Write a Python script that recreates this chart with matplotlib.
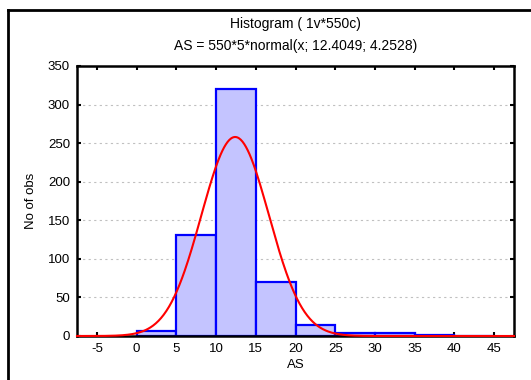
import numpy as np
import matplotlib
matplotlib.use("Agg")
import matplotlib.pyplot as plt
from matplotlib.lines import Line2D

plt.rcParams['font.family'] = ['Liberation Sans', 'DejaVu Sans']
plt.rcParams['axes.unicode_minus'] = False

# histogram data (bin edges of width 5, counts)
bin_left = [0, 5, 10, 15, 20, 25, 30, 35, 40]
counts = [6, 131, 320, 70, 14, 4, 4, 1, 0]
bin_width = 5
n_obs = 550
mu, sigma = 12.4049, 4.2528
x_ticks = [-5, 0, 5, 10, 15, 20, 25, 30, 35, 40, 45]
y_ticks = [0, 50, 100, 150, 200, 250, 300, 350]

fig = plt.figure(figsize=(5.31, 3.80), dpi=100)
ax = fig.add_axes([77 / 531, 44 / 380, 437 / 531, 270 / 380])

ax.bar(bin_left, counts, width=bin_width, align='edge',
       facecolor='#c4c4ff', edgecolor='#0000ff', linewidth=1.6, zorder=2)

xs = np.linspace(-7.5, 47.5, 500)
pdf = np.exp(-0.5 * ((xs - mu) / sigma) ** 2) / (sigma * np.sqrt(2 * np.pi))
ax.plot(xs, n_obs * bin_width * pdf, color='#ff0000', linewidth=1.5,
        zorder=4, clip_on=False)

ax.set_xlim(-7.5, 47.5)
ax.set_ylim(0, 350)
ax.set_xticks(x_ticks)
ax.set_yticks(y_ticks)
ax.tick_params(direction='in', length=3, width=1.5, labelsize=9.5,
               top=True, right=True, pad=5, colors='black')
ax.yaxis.grid(True, linestyle=(0, (2, 3)), color='#c0c0c0', linewidth=0.8)
ax.set_axisbelow(True)
for s in ax.spines.values():
    s.set_linewidth(1.8)

ax.set_xlabel('AS', fontsize=9.5, labelpad=3)
ax.set_ylabel('No of obs', fontsize=9.5, labelpad=8)

cx = (77 + 514) / 2 / 531
fig.text(cx, 1 - 24 / 380, 'Histogram ( 1v*550c)', ha='center', va='center', fontsize=10)
fig.text(cx, 1 - 46 / 380, 'AS = 550*5*normal(x; 12.4049; 4.2528)', ha='center', va='center', fontsize=10)

# outer frame (left and top edges visible)
fig.add_artist(Line2D([8 / 531, 8 / 531], [0, 1 - 10 / 380], color='black', linewidth=2))
fig.add_artist(Line2D([8 / 531, 1], [1 - 10 / 380, 1 - 10 / 380], color='black', linewidth=2))

fig.savefig('out.png', dpi=100)
